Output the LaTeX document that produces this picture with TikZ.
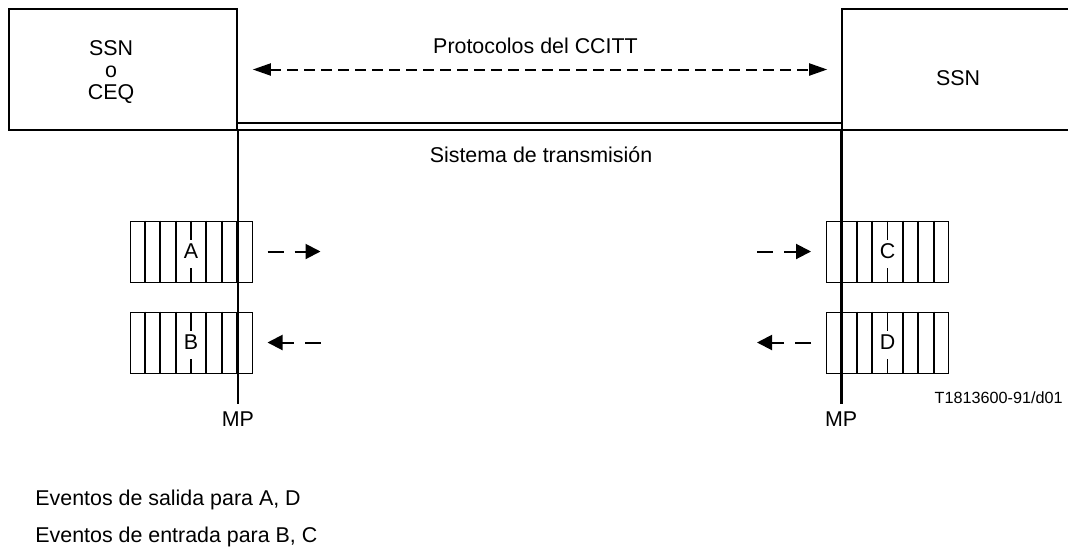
\documentclass[tikz,border=0pt]{standalone}
\usepackage{fontspec}
\setmainfont{Liberation Sans}
\usetikzlibrary{arrows.meta,calc}

\begin{document}
\begin{tikzpicture}[x=0.5pt,y=-0.5pt,font=\fontsize{10.7}{11}\selectfont]
                \useasboundingbox (0,0) rectangle (1068,552);
                \tikzstyle{unit}=[rectangle, draw, line width=0.8pt, minimum width=114pt, minimum height=60.5pt, inner sep=0pt]
                \tikzstyle{reg}=[rectangle, draw, line width=0.5pt, minimum width=61pt, minimum height=30.5pt, inner sep=0pt]
                \tikzstyle{cell}=[line width=0.9pt]
                \tikzstyle{mp}=[line width=1.3pt]

                \node[unit] (U1) at (123,69.5) {};
                \node[unit, minimum width=119pt] (U2) at (961,69.5) {};
                \node[unit, minimum width=302.5pt, minimum height=3.5pt] (T) at (539.5,126.5) {};
                \node[align=center] (L1) at (111,72) {SSN\\o\\CEQ};
                \node[anchor=base] (L2) at (958,85) {SSN};
                \node (P) at (535.5,45.5) {Protocolos del CCITT};
                \node[anchor=base] (S) at (541,162) {Sistema de transmisión};

                \node[reg] (A) at (191,251.5) {A};
                \node[reg] (B) at (191,342.5) {B};
                \node[reg] (C) at (887.5,251.5) {C};
                \node[reg] (D) at (887.5,342.5) {D};

                \foreach \r in {A,B,C,D} {
                    \foreach \i in {1,2,3,5,6,7}
                        \draw[cell] ($(\r.north west)!\i/8!(\r.north east)$) -- ($(\r.south west)!\i/8!(\r.south east)$);
                    \draw[cell] (\r.north) -- ++(0pt,-9.5pt);
                    \draw[cell] (\r.south) -- ++(0pt,7.5pt);
                }

                \draw[mp] (U1.south east) -- ++(0pt,-136.5pt) node[anchor=north] (MP1) {MP};
                \draw[mp] (U2.south west) -- ++(0pt,-136.5pt) node[anchor=north] (MP2) {MP};

                \tikzstyle{proto}=[<->, line width=1pt, dash pattern=on 5.5pt off 3pt, >={Triangle[length=9pt,width=6pt]}]
                \tikzstyle{event}=[->, line width=1pt, dash pattern=on 8pt off 5.5pt, >={Triangle[length=7.5pt,width=7.5pt]}]

                \draw[proto] ([xshift=7.5pt]U1.east) -- ([xshift=-7pt]U2.west);
                \draw[event] ([xshift=7.5pt]A.east) -- ++(26.5pt,0pt);
                \draw[event] ([xshift=34pt]B.east) -- ++(-26.5pt,0pt);
                \draw[event] ([xshift=-34.5pt]C.west) -- ++(27pt,0pt);
                \draw[event] ([xshift=-7.5pt]D.west) -- ++(-27pt,0pt);

                \node[anchor=east, font=\fontsize{8.1}{10}\selectfont, inner sep=0pt] (R) at (1063,398) {T1813600-91/d01};
                \node[anchor=base west, inner sep=0pt] (E1) at (35,505) {Eventos de salida para A, D};
                \node[anchor=base west, inner sep=0pt] (E2) at (35,542) {Eventos de entrada para B, C};
            \end{tikzpicture}
\end{document}
